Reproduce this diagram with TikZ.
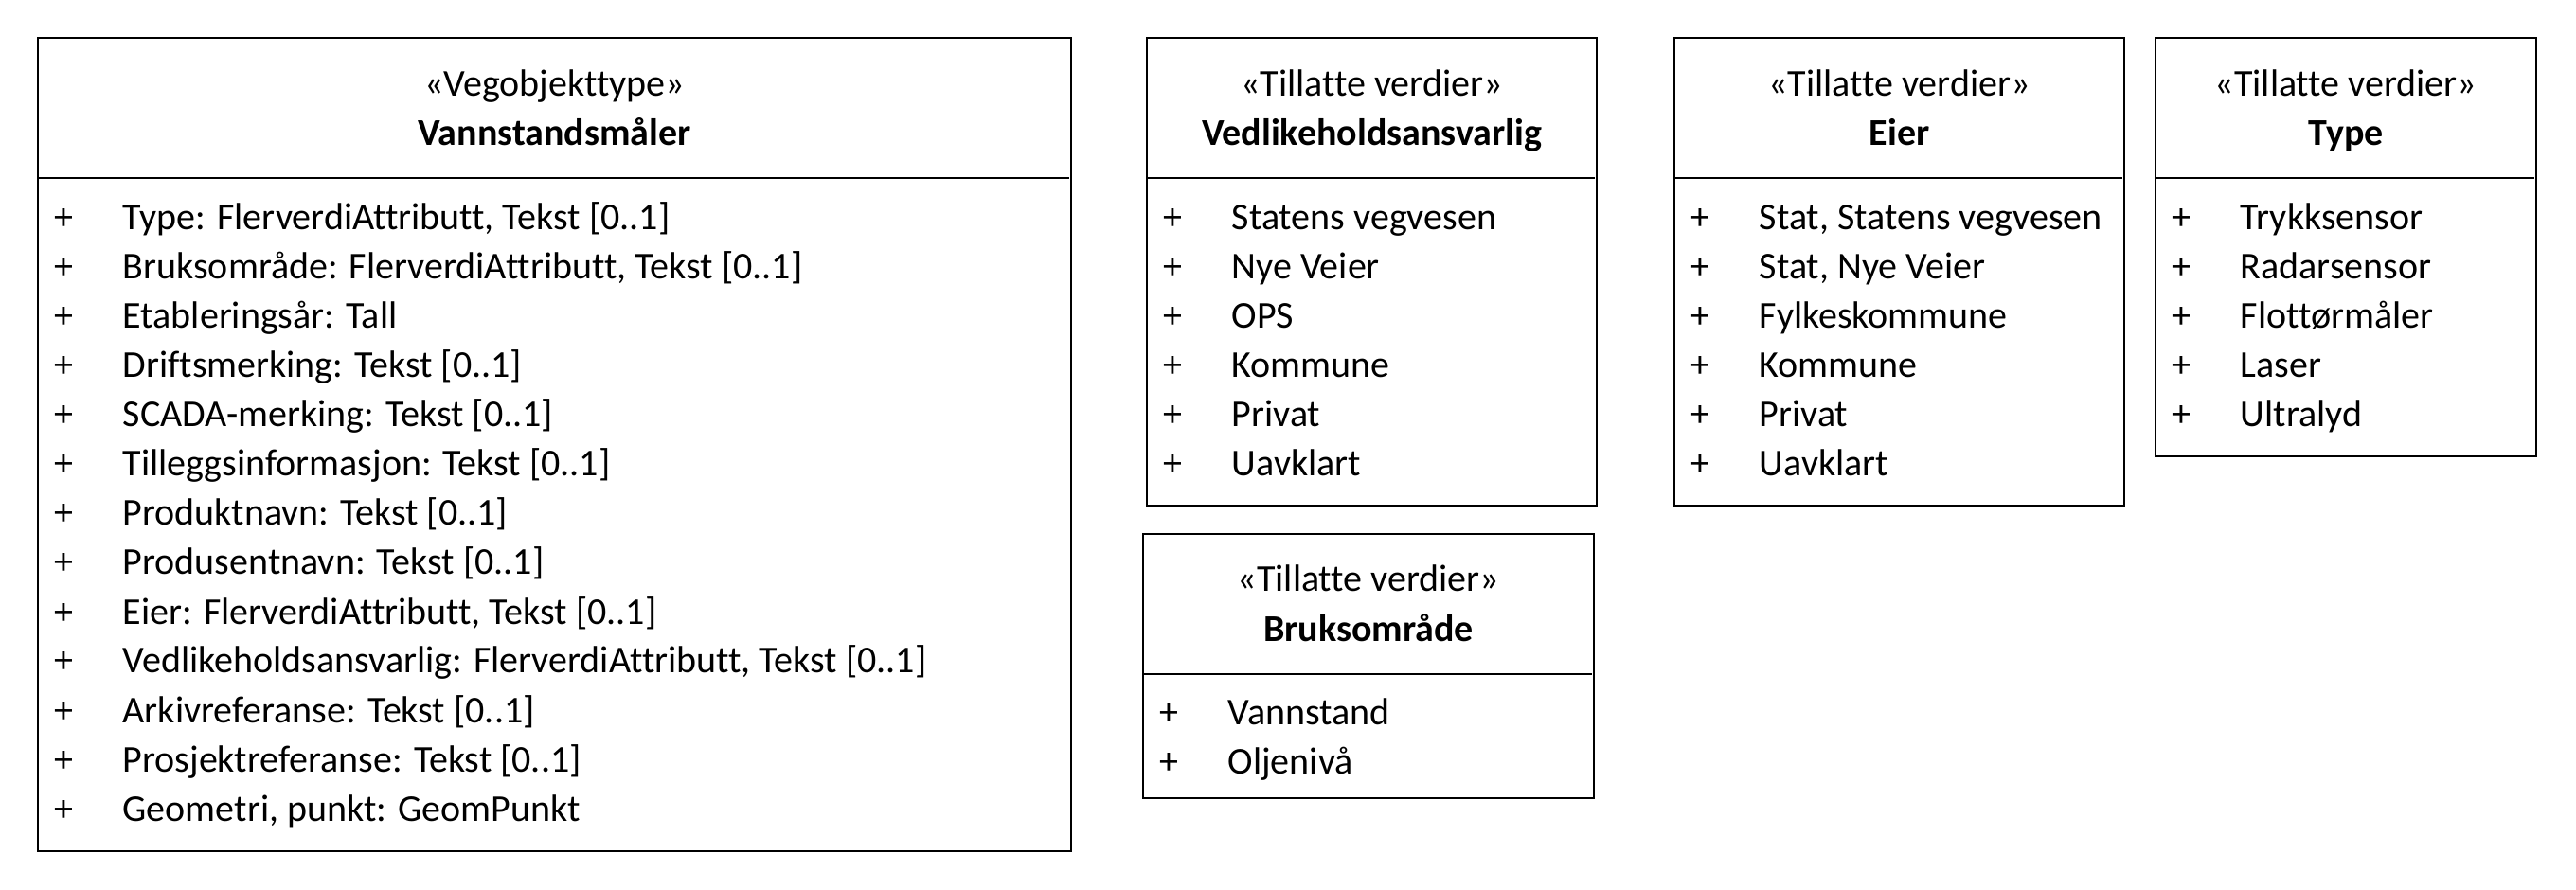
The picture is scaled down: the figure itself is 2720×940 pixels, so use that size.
\documentclass[tikz,border=0pt]{standalone}
\usepackage{fontspec}
\setmainfont{Carlito}[Ligatures=NoCommon]
\tikzset{
  kasse/.style={draw=black,line width=0.35pt},
  hode/.style={inner sep=0pt,anchor=base},
  navn/.style={hode,font=\bfseries},
  rad/.style={inner sep=0pt,anchor=base west},
}
\newcommand{\pluss}{\makebox[18pt][l]{+}}

\begin{document}
\begin{tikzpicture}[x=0.25pt,y=-0.25pt]
  \fontsize{10pt}{12pt}\selectfont
  \useasboundingbox (0,0) rectangle (2720,940);

  \draw [kasse] (40,40) rectangle (1131,899);
  \draw [kasse] (40,188) -- (1129,188);
  \node [hode] (vannSt) at (585.5,102) {«Vegobjekttype»};
  \node [navn] (vannNm) at (585.5,154) {Vannstandsmåler};
  \node [rad] (vann1) at (57,243) {\pluss Type: FlerverdiAttributt, Tekst [0..1]};
  \node [rad] (vann2) at (57,295) {\pluss Bruksområde: FlerverdiAttributt, Tekst [0..1]};
  \node [rad] (vann3) at (57,347) {\pluss Etableringsår: Tall};
  \node [rad] (vann4) at (57,399) {\pluss Driftsmerking: Tekst [0..1]};
  \node [rad] (vann5) at (57,451) {\pluss SCADA-merking: Tekst [0..1]};
  \node [rad] (vann6) at (57,503) {\pluss Tilleggsinformasjon: Tekst [0..1]};
  \node [rad] (vann7) at (57,555) {\pluss Produktnavn: Tekst [0..1]};
  \node [rad] (vann8) at (57,607) {\pluss Produsentnavn: Tekst [0..1]};
  \node [rad] (vann9) at (57,659) {\pluss Eier: FlerverdiAttributt, Tekst [0..1]};
  \node [rad] (vann10) at (57,711) {\pluss Vedlikeholdsansvarlig: FlerverdiAttributt, Tekst [0..1]};
  \node [rad] (vann11) at (57,763) {\pluss Arkivreferanse: Tekst [0..1]};
  \node [rad] (vann12) at (57,815) {\pluss Prosjektreferanse: Tekst [0..1]};
  \node [rad] (vann13) at (57,867) {\pluss Geometri, punkt: GeomPunkt};

  \draw [kasse] (1211,40) rectangle (1686,534);
  \draw [kasse] (1211,188) -- (1684,188);
  \node [hode] (vedlSt) at (1448.5,102) {«Tillatte verdier»};
  \node [navn] (vedlNm) at (1448.5,154) {Vedlikeholdsansvarlig};
  \node [rad] (vedl1) at (1228,243) {\pluss Statens vegvesen};
  \node [rad] (vedl2) at (1228,295) {\pluss Nye Veier};
  \node [rad] (vedl3) at (1228,347) {\pluss OPS};
  \node [rad] (vedl4) at (1228,399) {\pluss Kommune};
  \node [rad] (vedl5) at (1228,451) {\pluss Privat};
  \node [rad] (vedl6) at (1228,503) {\pluss Uavklart};

  \draw [kasse] (1207,564) rectangle (1683,843);
  \draw [kasse] (1207,712) -- (1681,712);
  \node [hode] (brukSt) at (1445,625) {«Tillatte verdier»};
  \node [navn] (brukNm) at (1445,677) {Bruksområde};
  \node [rad] (bruk1) at (1224,765) {\pluss Vannstand};
  \node [rad] (bruk2) at (1224,817) {\pluss Oljenivå};

  \draw [kasse] (1768,40) rectangle (2243,534);
  \draw [kasse] (1768,188) -- (2241,188);
  \node [hode] (eierSt) at (2005.5,102) {«Tillatte verdier»};
  \node [navn] (eierNm) at (2005.5,154) {Eier};
  \node [rad] (eier1) at (1785,243) {\pluss Stat, Statens vegvesen};
  \node [rad] (eier2) at (1785,295) {\pluss Stat, Nye Veier};
  \node [rad] (eier3) at (1785,347) {\pluss Fylkeskommune};
  \node [rad] (eier4) at (1785,399) {\pluss Kommune};
  \node [rad] (eier5) at (1785,451) {\pluss Privat};
  \node [rad] (eier6) at (1785,503) {\pluss Uavklart};

  \draw [kasse] (2276,40) rectangle (2678,482);
  \draw [kasse] (2276,188) -- (2676,188);
  \node [hode] (typeSt) at (2477,102) {«Tillatte verdier»};
  \node [navn] (typeNm) at (2477,154) {Type};
  \node [rad] (type1) at (2293,243) {\pluss Trykksensor};
  \node [rad] (type2) at (2293,295) {\pluss Radarsensor};
  \node [rad] (type3) at (2293,347) {\pluss Flottørmåler};
  \node [rad] (type4) at (2293,399) {\pluss Laser};
  \node [rad] (type5) at (2293,451) {\pluss Ultralyd};
\end{tikzpicture}
\end{document}
